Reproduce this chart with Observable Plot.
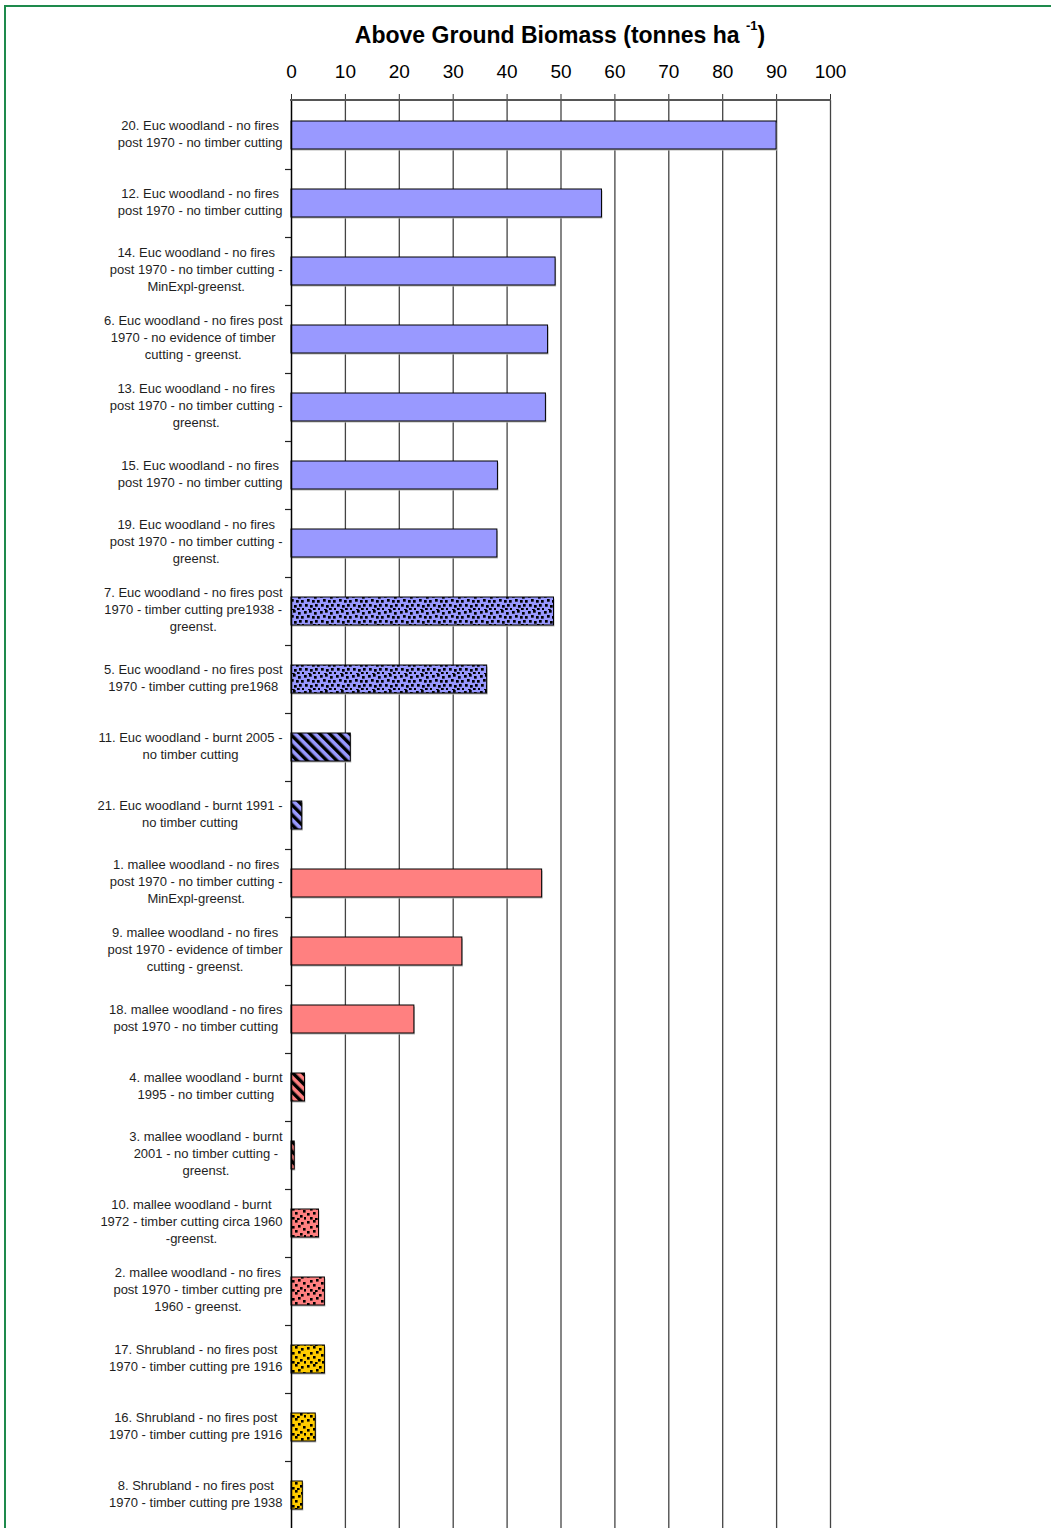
<!DOCTYPE html>
<html><head><meta charset="utf-8">
<script src="https://cdn.jsdelivr.net/npm/d3@7"></script>
<script src="https://cdn.jsdelivr.net/npm/@observablehq/plot@0.6"></script>
<style>
html,body{margin:0;padding:0;background:#fff;overflow:hidden;width:1051px;height:1528px;}
#frame{position:absolute;left:4px;top:5px;width:1100px;height:1600px;border-left:2.5px solid #1e8a4c;border-top:2.5px solid #1e8a4c;pointer-events:none;}
#title{position:absolute;left:290px;width:540px;top:22px;text-align:center;font:bold 23px "Liberation Sans",Arial,sans-serif;color:#000;white-space:nowrap;}
#title sup{font-size:13px;vertical-align:top;position:relative;top:-4px;}
#chart{position:absolute;left:0;top:50px;}
</style></head>
<body>
<div id="title">Above Ground Biomass (tonnes ha <sup>-1</sup>)</div>
<div id="chart"></div>
<div id="frame"></div>
<script>
const categories = [
  "20. Euc woodland - no fires\npost 1970 - no timber cutting",
  "12. Euc woodland - no fires\npost 1970 - no timber cutting",
  "14. Euc woodland - no fires\npost 1970 - no timber cutting -\nMinExpl-greenst.",
  "6. Euc woodland - no fires post\n1970 - no evidence of timber\ncutting - greenst.",
  "13. Euc woodland - no fires\npost 1970 - no timber cutting -\ngreenst.",
  "15. Euc woodland - no fires\npost 1970 - no timber cutting",
  "19. Euc woodland - no fires\npost 1970 - no timber cutting -\ngreenst.",
  "7. Euc woodland - no fires post\n1970 - timber cutting pre1938 -\ngreenst.",
  "5. Euc woodland - no fires post\n1970 - timber cutting pre1968",
  "11. Euc woodland - burnt 2005 -\nno timber cutting",
  "21. Euc woodland - burnt 1991 -\nno timber cutting",
  "1. mallee woodland - no fires\npost 1970 - no timber cutting -\nMinExpl-greenst.",
  "9. mallee woodland - no fires\npost 1970 - evidence of timber\ncutting - greenst.",
  "18. mallee woodland - no fires\npost 1970 - no timber cutting",
  "4. mallee woodland - burnt\n1995 - no timber cutting",
  "3. mallee woodland - burnt\n2001 - no timber cutting -\ngreenst.",
  "10. mallee woodland - burnt\n1972 - timber cutting circa 1960\n-greenst.",
  "2. mallee woodland - no fires\npost 1970 - timber cutting pre\n1960 - greenst.",
  "17. Shrubland - no fires post\n1970 - timber cutting pre 1916",
  "16. Shrubland - no fires post\n1970 - timber cutting pre 1916",
  "8. Shrubland - no fires post\n1970 - timber cutting pre 1938"
];
const biomass = [90.0, 57.6, 49.0, 47.6, 47.2, 38.3, 38.2, 48.7, 36.3, 11.0, 2.0,
                 46.5, 31.7, 22.8, 2.5, 0.6, 5.1, 6.2, 6.2, 4.5, 2.1];
const vegetation = ["euc","euc","euc","euc","euc","euc","euc","euc","euc","euc","euc",
                    "mallee","mallee","mallee","mallee","mallee","mallee","mallee",
                    "shrub","shrub","shrub"];
const treatment = ["none","none","none","none","none","none","none","cut","cut","burnt","burnt",
                   "none","none","none","burnt","burnt","cut","cut",
                   "cut","cut","cut"];
const xTicks = [0, 10, 20, 30, 40, 50, 60, 70, 80, 90, 100];

const vegColor = {euc: "#9999FF", mallee: "#FF8080", shrub: "#FFCC00"};

const data = categories.map((c, i) => ({
  label: c, value: biomass[i], veg: vegetation[i], treat: treatment[i],
  key: `${vegetation[i]}-${treatment[i]}`
}));

// pattern definitions
function defsMark() {
  const g = d3.create("svg:g");
  const defs = g.append("defs");
  for (const veg of Object.keys(vegColor)) {
    const col = vegColor[veg];
    const ps = defs.append("pattern").attr("id", `${veg}-none`).attr("patternUnits", "userSpaceOnUse")
      .attr("width", 4).attr("height", 4);
    ps.append("rect").attr("width", 4).attr("height", 4).attr("fill", col);
    const pb = defs.append("pattern").attr("id", `${veg}-burnt`).attr("patternUnits", "userSpaceOnUse")
      .attr("width", 7).attr("height", 7).attr("patternTransform", "rotate(-45)");
    pb.append("rect").attr("width", 7).attr("height", 7).attr("fill", col);
    pb.append("rect").attr("width", 3.4).attr("height", 7).attr("fill", "#000");
    const pc = defs.append("pattern").attr("id", `${veg}-cut`).attr("patternUnits", "userSpaceOnUse");
    if (veg === "euc") {
      pc.attr("width", 16).attr("height", 16);
      pc.append("rect").attr("width", 16).attr("height", 16).attr("fill", col);
      for (const [dx, dy] of [[0,1],[5,0],[10,2],[13,6],[3,5],[8,6],[1,10],[6,11],[11,10],[14,14],[9,14],[4,15]]) {
        pc.append("rect").attr("x", dx).attr("y", dy).attr("width", 2.7).attr("height", 2.7).attr("fill", "#000");
      }
    } else {
      pc.attr("width", 18).attr("height", 18);
      pc.append("rect").attr("width", 18).attr("height", 18).attr("fill", col);
      for (const [dx, dy] of [[1,1],[7,0],[13,2],[4,6],[10,5],[15,8],[1,11],[7,10],[12,13],[4,15],[9,16],[16,15]]) {
        pc.append("rect").attr("x", dx).attr("y", dy).attr("width", 2.6).attr("height", 2.6).attr("fill", "#000");
      }
    }
  }
  return g.node();
}

// category separator ticks and top axis line
function framework(index, scales, values, dims) {
  const {x, y} = scales;
  const g = d3.create("svg:g");
  const step = y.step();
  const bw = y.bandwidth();
  const x0 = x(0);
  categories.forEach((c, i) => {
    if (i === 0) return;
    const yy = Math.round(y(c) - (step - bw) / 2) + 0.5;
    g.append("line").attr("x1", x0 - 6).attr("x2", x0).attr("y1", yy).attr("y2", yy)
      .attr("stroke", "#222").attr("stroke-width", 1.2);
  });
  const yTop = dims.marginTop;
  g.append("line").attr("x1", x0 - 1).attr("x2", x(100) + 1).attr("y1", yTop).attr("y2", yTop)
    .attr("stroke", "#555").attr("stroke-width", 2);
  return g.node();
}

const keys = Array.from(new Set(data.map(d => d.key)));

const chart = Plot.plot({
  width: 1051,
  height: 1480,
  marginTop: 50,
  marginBottom: 0,
  marginLeft: 291,
  marginRight: 221,
  style: {fontFamily: "'Liberation Sans', Arial, sans-serif", background: "white", overflow: "visible"},
  x: {domain: [0, 100], axis: null},
  y: {domain: categories, paddingInner: 0.59, paddingOuter: 0.295, axis: null},
  marks: [
    defsMark,
    Plot.ruleX(xTicks.slice(1), {stroke: "#444", strokeWidth: 1.3}),
    Plot.barX(data, {x: "value", y: "label", fill: "#b5b5b5", dx: 1, dy: 1.5}),
    ...keys.map(k => Plot.barX(data.filter(d => d.key === k), {
      x: "value", y: "label", fill: `url(#${k})`, stroke: "#000", strokeWidth: 1
    })),
    Plot.ruleX([0], {stroke: "#000", strokeWidth: 1.5}),
    Plot.axisX({ticks: xTicks, anchor: "top", tickSize: 7, tickPadding: 16, fontSize: 19,
      color: "#000", stroke: "#333", tickFormat: d => String(d), label: null}),
    Plot.axisY({tickSize: 0, tickPadding: 9, fontSize: 13, lineHeight: 1.31, dy: -2.5,
      color: "#1e1e1e", tickFormat: d => d, label: null}),
    framework
  ]
});

document.getElementById("chart").appendChild(chart);

// center the wrapped lines of each category label (Excel style)
chart.querySelectorAll('g[aria-label="y-axis tick label"] text').forEach(t => {
  const spans = Array.from(t.querySelectorAll("tspan"));
  if (!spans.length) return;
  const w = Math.max(...spans.map(s => s.getComputedTextLength()));
  t.setAttribute("text-anchor", "middle");
  spans.forEach(s => s.setAttribute("x", -w / 2));
});
</script>
</body></html>
